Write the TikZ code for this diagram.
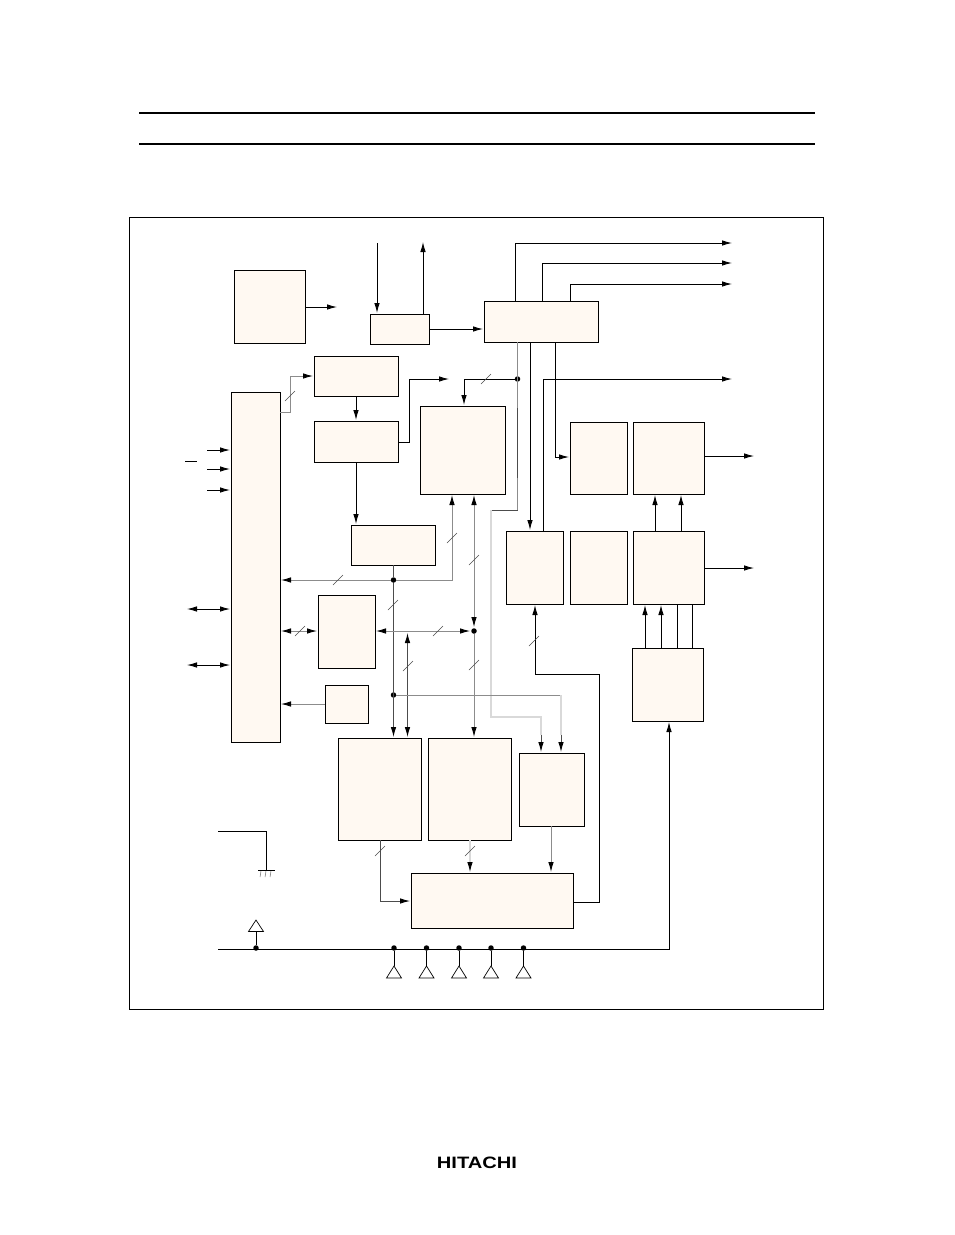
\documentclass[tikz,border=0pt]{standalone}
\usepackage{fontspec}
\setmainfont{Liberation Sans}
\usetikzlibrary{arrows.meta}
\definecolor{blkfill}{HTML}{FFF9F2}
\tikzset{
  >={Latex[length=10pt,width=5.5pt,color=black]},
  blk/.style={draw=black,fill=blkfill,line width=0.9pt,inner sep=0pt,outer sep=0pt,anchor=north west},
  wire/.style={line width=0.9pt,black},
  sig/.style={wire,->,shorten >=1pt},
  bisig/.style={wire,<->,shorten >=1pt,shorten <=1pt},
  faint/.style={draw=black!45},
  mid/.style={draw=black!70},
  pale/.style={draw=black!15,line width=1.4pt},
  dotmark/.style={circle,fill=black,inner sep=0pt,minimum size=5.5pt},
  slashmark/.style={line width=0.4pt,black!70}
}
\newcommand{\busmark}[2]{\draw[slashmark] (#1-5,#2+5) -- (#1+5,#2-5);}
\begin{document}
\begin{tikzpicture}[x=1pt,y=-1pt]
\useasboundingbox (0,0) rectangle (954,1235);
% Page rules and frame
\draw[line width=1.4pt] (139,113) -- (815,113);
\draw[line width=1.4pt] (139,144) -- (815,144);
\draw[line width=0.6pt] (129,217) rectangle (823,1009);
% Blocks
\node[blk,minimum width=71pt,minimum height=73pt] (osc) at (234,270) {};
\node[blk,minimum width=59pt,minimum height=30pt] (port) at (370,314) {};
\node[blk,minimum width=114pt,minimum height=41pt] (ctrl) at (484,301) {};
\node[blk,minimum width=84pt,minimum height=40pt] (cache) at (314,356) {};
\node[blk,minimum width=84pt,minimum height=41pt] (decode) at (314,421) {};
\node[blk,minimum width=49pt,minimum height=350pt] (iface) at (231,392) {};
\node[blk,minimum width=85pt,minimum height=88pt] (ram) at (420,406) {};
\node[blk,minimum width=84pt,minimum height=40pt] (latch) at (351,525) {};
\node[blk,minimum width=57pt,minimum height=72pt] (timera) at (570,422) {};
\node[blk,minimum width=71pt,minimum height=72pt] (timerb) at (633,422) {};
\node[blk,minimum width=57pt,minimum height=73pt] (dac) at (506,531) {};
\node[blk,minimum width=57pt,minimum height=73pt] (reg) at (570,531) {};
\node[blk,minimum width=71pt,minimum height=73pt] (drive) at (633,531) {};
\node[blk,minimum width=57pt,minimum height=73pt] (buf) at (318,595) {};
\node[blk,minimum width=43pt,minimum height=38pt] (stat) at (325,685) {};
\node[blk,minimum width=71pt,minimum height=73pt] (seq) at (632,648) {};
\node[blk,minimum width=83pt,minimum height=102pt] (alu) at (338,738) {};
\node[blk,minimum width=83pt,minimum height=102pt] (rom) at (428,738) {};
\node[blk,minimum width=65pt,minimum height=73pt] (cmp) at (519,753) {};
\node[blk,minimum width=162pt,minimum height=55pt] (mux) at (411,873) {};
% Junctions
\node[dotmark] (jctrl) at (517.5,379) {};
\node[dotmark] (jlatch) at (393.5,580) {};
\node[dotmark] (jbus) at (474,631) {};
\node[dotmark] (jstat) at (393.5,695) {};
% Free ends
\coordinate (oscout) at (338,307);
\coordinate (outa) at (733,243);
\coordinate (outb) at (733,263);
\coordinate (outc) at (733,284);
\coordinate (outd) at (733,379);
\coordinate (oute) at (755,456);
\coordinate (outf) at (755,568);
\coordinate (decout) at (450,379);
% Top section
\draw[sig] (osc.east |- oscout) -- (oscout);
\draw[sig] (377,243) -- (port.north -| 377,0);
\draw[sig] (port.north -| 423,0) -- (423,241);
\draw[sig] (port.east |- 0,329) -- (ctrl.west |- 0,329);
\draw[sig] (ctrl.north -| 515,0) |- (outa);
\draw[sig] (ctrl.north -| 542,0) |- (outb);
\draw[sig] (ctrl.north -| 570,0) |- (outc);
\draw[sig] (dac.north -| 543,0) |- (outd);
\draw[sig] (ctrl.south -| 530,0) -- (dac.north -| 530,0);
\draw[sig] (ctrl.south -| 555,0) |- (timera.west |- 0,457);
\draw[sig] (timerb.east |- oute) -- (oute);
\draw[sig] (drive.east |- outf) -- (outf);
\draw[sig] (drive.north -| 655,0) -- (timerb.south -| 655,0);
\draw[sig] (drive.north -| 681,0) -- (timerb.south -| 681,0);
\foreach \x in {645,661} \draw[sig] (seq.north -| \x,0) -- (drive.south -| \x,0);
\foreach \x in {677,692} \draw[wire] (seq.north -| \x,0) -- (drive.south -| \x,0);
% Bus from control block
\draw[wire,faint] (ctrl.south -| jctrl) -- (517.5,510);
\draw[wire,mid] (517.5,408) -- (517.5,478);
\draw[wire,mid] (517.5,510) -- (491,510);
\draw[pale] (491,510) -- (491,717) -- (541,717) -- (541,735);
\draw[sig,mid] (541,735) -- (cmp.north -| 541,0);
\draw[sig] (jctrl) -| (ram.north -| 464,0);
\busmark{486}{379}
% Left side
\draw[sig,faint] (iface.east |- 0,412) -- (290,412) -- (290,376) -- (cache.west |- 0,376);
\busmark{290}{396}
\draw[sig] (cache.south -| 356,0) -- (decode.north -| 356,0);
\draw[sig] (decode.south -| 356,0) -- (latch.north -| 356,0);
\draw[sig] (decode.east |- 0,442) -- (409,442) |- (decout);
\foreach \y in {450,469,490} \draw[sig] (207,\y) -- (iface.west |- 0,\y);
\draw[wire] (185,461) -- (197,461);
\foreach \y in {609,665} \draw[bisig] (186,\y) -- (iface.west |- 0,\y);
% Data buses
\draw[sig,faint] (jlatch) -- (iface.east |- jlatch);
\draw[sig,faint] (jlatch) -| (ram.south -| 452,0);
\busmark{338}{580}
\busmark{452}{538}
\draw[wire,mid] (latch.south -| jlatch) -- (jlatch);
\draw[sig,mid] (jlatch) -- (alu.north -| jlatch);
\busmark{393}{605}
\draw[bisig,faint] (jbus) -- (ram.south -| jbus);
\draw[sig,faint] (jbus) -- (rom.north -| jbus);
\busmark{474}{560}
\busmark{474}{665}
\draw[bisig,faint] (buf.east |- jbus) -- (jbus);
\busmark{438}{631}
\draw[bisig,mid] (407.5,632) -- (alu.north -| 407.5,0);
\busmark{408}{666}
\draw[bisig,faint] (iface.east |- jbus) -- (buf.west |- jbus);
\busmark{300}{631}
\draw[sig,faint] (stat.west |- 0,704) -- (iface.east |- 0,704);
\draw[wire,faint] (jstat) -- (561,695);
\draw[pale] (561,695) -- (561,735);
\draw[sig,mid] (561,735) -- (cmp.north -| 561,0);
% Feedback to the converter
\draw[sig] (mux.east |- 0,902) -- (599,902) -- (599,674) -- (535,674) -- (dac.south -| 535,0);
\busmark{534}{641}
\draw[sig,mid] (alu.south -| 380,0) |- (mux.west |- 0,901);
\busmark{380}{851}
\draw[pale] (rom.south -| 470,0) -- (470,862);
\draw[sig] (470,862) -- (mux.north -| 470,0);
\busmark{470}{851}
\draw[sig,faint] (cmp.south -| 551,0) -- (mux.north -| 551,0);
% Ground
\coordinate (gnd) at (266,870);
\draw[wire] (218,831) -| (gnd);
\draw[wire] (258,870) -- (275,870);
\foreach \x in {261,266,271} \draw[line width=0.5pt,black!60] (\x,871) -- (\x-1,877);
% Supply rail with terminals
\node[dotmark] (jvcc) at (256,948) {};
\draw[wire] (218,949) -- (669,949) -- (669,730);
\draw[sig] (669,730) -- (seq.south -| 669,0);
\draw[wire] (jvcc) -- (256,931);
\draw[line width=0.7pt] (256,920) -- (248.5,931.5) -- (263.5,931.5) -- cycle;
\foreach \n/\x in {a/394,b/426.5,c/459,d/491,e/523.5} {
  \node[dotmark] (j\n) at (\x,948) {};
  \draw[wire] (j\n) -- (\x,966);
  \draw[line width=0.7pt] (\x,966) -- (\x-7.5,978) -- (\x+7.5,978) -- cycle;
}
% Logo
\node[font=\fontsize{16.5}{17}\bfseries] (logo) at (477,1163) {\scalebox{1.22}[1]{HITACHI}};
\end{tikzpicture}
\end{document}
